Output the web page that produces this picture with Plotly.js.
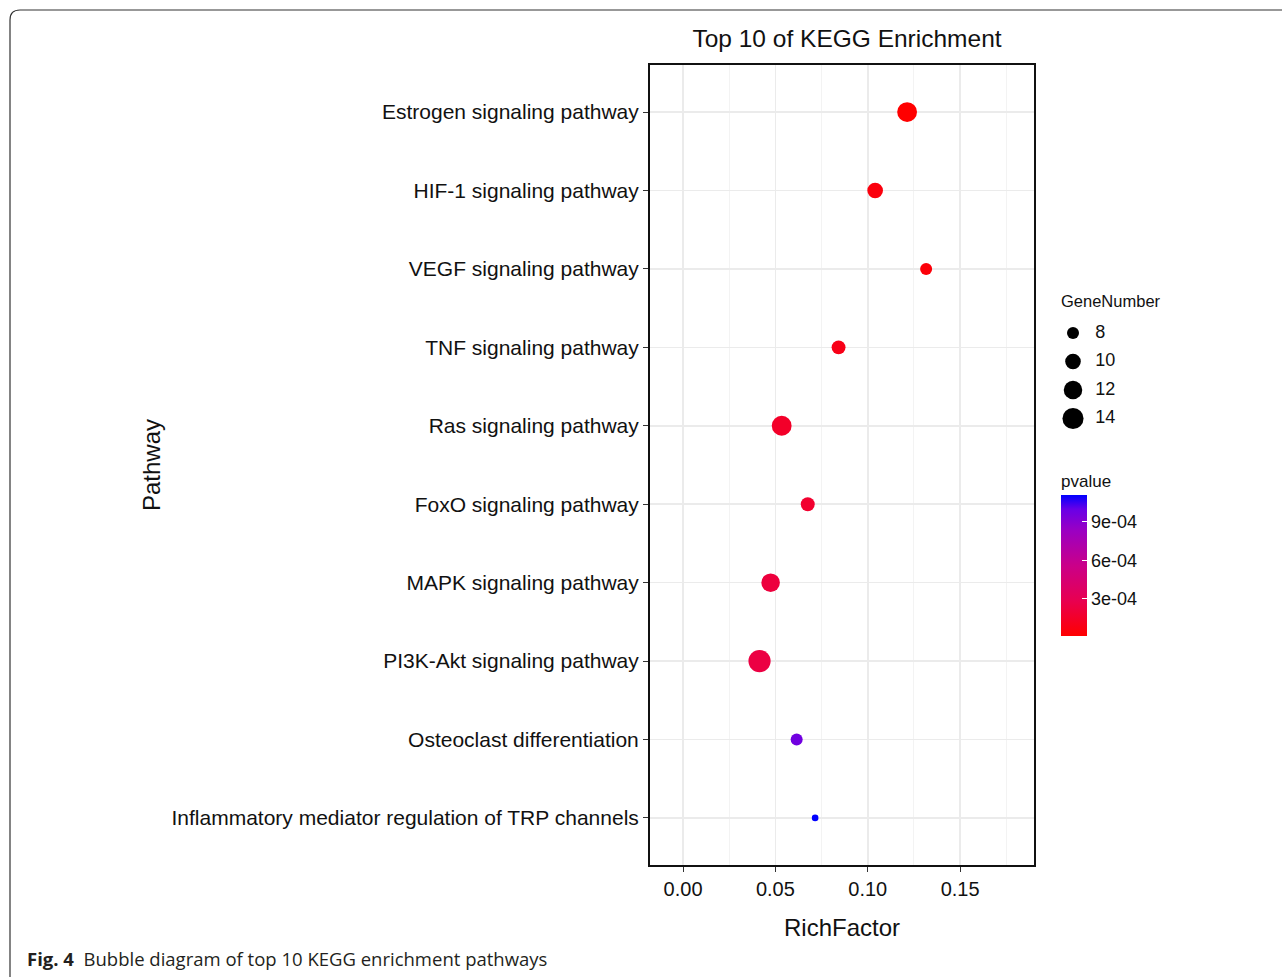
<!DOCTYPE html>
<html>
<head>
<meta charset="utf-8">
<script src="https://cdn.plot.ly/plotly-3.0.1.min.js"></script>
<style>
  html, body { margin: 0; padding: 0; background: #fff; }
  #chart { width: 1282px; height: 977px; }
</style>
</head>
<body>
<div id="chart"></div>
<script>
// ---- data (top-to-bottom display order) ----
const pathways = [
  "Estrogen signaling pathway",
  "HIF-1 signaling pathway",
  "VEGF signaling pathway",
  "TNF signaling pathway",
  "Ras signaling pathway",
  "FoxO signaling pathway",
  "MAPK signaling pathway",
  "PI3K-Akt signaling pathway",
  "Osteoclast differentiation",
  "Inflammatory mediator regulation of TRP channels"
];
const richFactor = [0.1213, 0.1040, 0.1316, 0.0842, 0.0534, 0.0675, 0.0474, 0.0414, 0.0615, 0.0715];
const geneNumber = [13, 10, 8, 9, 13, 9, 12, 15, 8, 6];
const pvalue = [1.0e-5, 5.5e-5, 4.0e-5, 9.0e-5, 1.5e-4, 1.7e-4, 2.2e-4, 2.4e-4, 9.7e-4, 1.11e-3];

const legendSizes = [8, 10, 12, 14];
const legendLabels = ["8", "10", "12", "14"];
const pTickVals = [3e-4, 6e-4, 9e-4];
const pTickText = ["3e-04", "6e-04", "9e-04"];
const xTickVals = [0, 0.05, 0.10, 0.15];
const xTickText = ["0.00", "0.05", "0.10", "0.15"];

// ---- styling helpers ----
function diam(n) { return Math.sqrt(Math.max(144 + 50 * (n - 8), 20)); }
const FONT = "Liberation Sans, Arial, sans-serif";
const W = 1282, H = 977;
const mL = 650, mR = 0, mT = 65, mB = 112;
const pw = W - mL - mR, ph = H - mT - mB;
const px = x => (x - mL) / pw;          // pixel x -> paper
const py = y => (H - mB - y) / ph;      // pixel y -> paper

const colorscale = [
  [0, "#FF0000"], [0.25, "#E80050"], [0.5, "#CA0089"],
  [0.75, "#9A00C3"], [0.9, "#6800E7"], [1, "#0000FF"]
];

const mainTrace = {
  type: "scatter", mode: "markers",
  x: richFactor, y: pathways,
  xaxis: "x", yaxis: "y",
  marker: {
    size: geneNumber.map(diam), sizemode: "diameter",
    color: pvalue, colorscale: colorscale,
    cmin: Math.min(...pvalue), cmax: Math.max(...pvalue),
    line: { width: 0 }, opacity: 1,
    colorbar: {
      x: px(1061), xanchor: "left", xpad: 0,
      y: py(471), yanchor: "top", ypad: 0,
      thickness: 26, thicknessmode: "pixels",
      len: 165, lenmode: "pixels",
      outlinewidth: 0,
      tickvals: pTickVals, ticktext: pTickText,
      ticks: "inside", ticklen: 5, tickcolor: "#ffffff", tickwidth: 1,
      tickfont: { family: FONT, size: 18, color: "#111" },
      title: { text: "pvalue", side: "top", font: { family: FONT, size: 17, color: "#111" } }
    }
  },
  showlegend: false, hoverinfo: "x+y"
};

const sizeLegendMarkers = {
  type: "scatter", mode: "markers",
  x: legendSizes.map(() => 0.2), y: legendSizes,
  xaxis: "x2", yaxis: "y2",
  marker: { size: legendSizes.map(diam), color: "#000000", opacity: 1, line: { width: 0 } },
  showlegend: false, hoverinfo: "skip"
};
const sizeLegendText = {
  type: "scatter", mode: "text",
  x: legendSizes.map(() => 0.57), y: legendSizes,
  text: legendLabels, textposition: "middle right",
  textfont: { family: FONT, size: 18, color: "#111" },
  xaxis: "x2", yaxis: "y2",
  showlegend: false, hoverinfo: "skip"
};

const r = 10;
const bx = px(10), byTop = py(10), byBot = py(990);
const borderPath = `M ${bx},${byBot} L ${bx},${py(10 + r)} Q ${bx},${byTop} ${px(10 + r)},${byTop} L ${px(1300)},${byTop}`;

const layout = {
  width: W, height: H,
  margin: { l: mL, r: mR, t: mT, b: mB, pad: 0 },
  paper_bgcolor: "#fff", plot_bgcolor: "#fff",
  font: { family: FONT, color: "#111" },
  title: {
    text: "Top 10 of KEGG Enrichment",
    font: { family: FONT, size: 24.5, color: "#111" },
    xref: "paper", x: px(847), xanchor: "center",
    yref: "container", y: 1 - 38 / H, yanchor: "middle"
  },
  xaxis: {
    domain: [0, (1034 - mL) / pw],
    range: [-0.0179, 0.190],
    tickvals: xTickVals, ticktext: xTickText,
    ticks: "outside", ticklen: 5, tickwidth: 1, tickcolor: "#333",
    tickfont: { family: FONT, size: 20, color: "#111" },
    showgrid: true, gridcolor: "#EBEBEB", gridwidth: 1.6,
    minor: { tick0: 0.025, dtick: 0.05, showgrid: true, gridcolor: "#F3F3F3", gridwidth: 1, ticks: "" },
    zeroline: false,
    showline: true, mirror: true, linecolor: "#111", linewidth: 2,
    title: { text: "RichFactor", font: { family: FONT, size: 24, color: "#111" }, standoff: 20 },
    fixedrange: true
  },
  yaxis: {
    type: "category",
    categoryorder: "array", categoryarray: pathways.slice().reverse(),
    range: [-0.6, 9.6],
    ticks: "outside", ticklen: 5, tickwidth: 1, tickcolor: "#333",
    tickfont: { family: FONT, size: 21, color: "#111" },
    showgrid: true, gridcolor: "#EBEBEB", gridwidth: 1.6,
    zeroline: false,
    showline: true, mirror: true, linecolor: "#111", linewidth: 2,
    title: { text: "Pathway", font: { family: FONT, size: 24, color: "#111" }, standoff: 4 },
    fixedrange: true
  },
  xaxis2: {
    domain: [px(1061), px(1121)], range: [0, 1], anchor: "y2",
    visible: false, fixedrange: true
  },
  yaxis2: {
    domain: [py(432.75), py(318.75)], range: [15, 7], anchor: "x2",
    visible: false, fixedrange: true
  },
  annotations: [
    {
      text: "GeneNumber", xref: "paper", yref: "paper",
      x: px(1059), y: py(301), xanchor: "left", yanchor: "middle",
      showarrow: false, font: { family: FONT, size: 16.5, color: "#111" }
    },
    {
      text: "<b>Fig. 4</b>  Bubble diagram of top 10 KEGG enrichment pathways",
      xref: "paper", yref: "paper",
      x: px(25), y: py(958), xanchor: "left", yanchor: "middle",
      showarrow: false, font: { family: "Open Sans, Noto Sans, sans-serif", size: 18.5, color: "#231f20" }
    }
  ],
  shapes: [
    {
      type: "path", xref: "paper", yref: "paper", path: borderPath,
      line: { color: "#333", width: 1.2 }, layer: "above"
    }
  ]
};

Plotly.newPlot("chart", [mainTrace, sizeLegendMarkers, sizeLegendText], layout, { displayModeBar: false, staticPlot: true });
</script>
</body>
</html>
